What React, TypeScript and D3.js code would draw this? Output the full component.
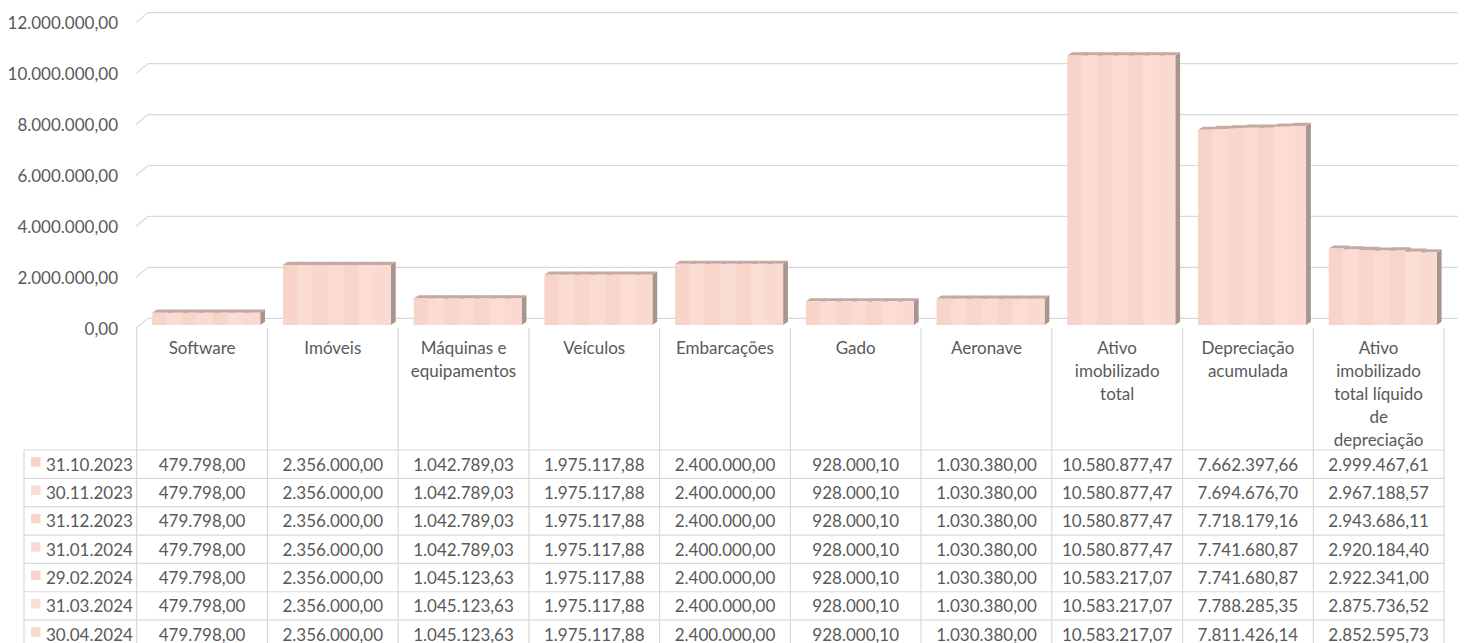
import * as d3 from "d3"

// categories (line breaks as in the data table header)
const categories = [
  "Software",
  "Imóveis",
  "Máquinas e\nequipamentos",
  "Veículos",
  "Embarcações",
  "Gado",
  "Aeronave",
  "Ativo\nimobilizado\ntotal",
  "Depreciação\nacumulada",
  "Ativo\nimobilizado\ntotal líquido\nde\ndepreciação",
]

const dates = ["31.10.2023", "30.11.2023", "31.12.2023", "31.01.2024", "29.02.2024", "31.03.2024", "30.04.2024"]

const s20231031 = [479798.0, 2356000.0, 1042789.03, 1975117.88, 2400000.0, 928000.1, 1030380.0, 10580877.47, 7662397.66, 2999467.61]
const s20231130 = [479798.0, 2356000.0, 1042789.03, 1975117.88, 2400000.0, 928000.1, 1030380.0, 10580877.47, 7694676.7, 2967188.57]
const s20231231 = [479798.0, 2356000.0, 1042789.03, 1975117.88, 2400000.0, 928000.1, 1030380.0, 10580877.47, 7718179.16, 2943686.11]
const s20240131 = [479798.0, 2356000.0, 1042789.03, 1975117.88, 2400000.0, 928000.1, 1030380.0, 10580877.47, 7741680.87, 2920184.4]
const s20240229 = [479798.0, 2356000.0, 1045123.63, 1975117.88, 2400000.0, 928000.1, 1030380.0, 10583217.07, 7741680.87, 2922341.0]
const s20240331 = [479798.0, 2356000.0, 1045123.63, 1975117.88, 2400000.0, 928000.1, 1030380.0, 10583217.07, 7788285.35, 2875736.52]
const s20240430 = [479798.0, 2356000.0, 1045123.63, 1975117.88, 2400000.0, 928000.1, 1030380.0, 10583217.07, 7811426.14, 2852595.73]

const seriesValues = [s20231031, s20231130, s20231231, s20240131, s20240229, s20240331, s20240430]
const seriesColors = ["#F7D3C9", "#FADCD4", "#F8D6CC", "#FADBD3", "#F8D5CB", "#FBDDD5", "#F9D9D0"]

const W = 1464
const H = 643
const FONT = "Lato, 'Open Sans', sans-serif"
const TEXT = "#595959"
const GRID = "#D9D9D9"
const SIDE = "#A8958F"
const TOP = "#C5AAA2"

const locale = d3.formatLocale({ decimal: ",", thousands: ".", grouping: [3], currency: ["", ""] })
const fmt = locale.format(",.2f")

export default function App() {
  // plot geometry
  const tableLeft = 136.7
  const tableRight = 1444
  const legendLeft = 24
  const frontZero = 325
  const backShift = -6.7 // back wall sits a bit higher than the bar fronts
  const depthX = 4.8
  const depthY = -3.2

  const y = d3.scaleLinear().domain([0, 12000000]).range([frontZero, frontZero - 12 * 25.47])
  const xCat = d3.scaleBand<string>().domain(categories).range([tableLeft, tableRight])
  const xSer = d3.scaleBand<string>().domain(dates).range([15.5, 123.5])
  const ticks = y.ticks(6)

  const headerTop = 328
  const rowTop = 450
  const rowH = 28.35
  const rowLines = d3.range(dates.length + 1).map((i) => rowTop + i * rowH)

  return (
    <svg
      width={W}
      height={H}
      style={{ position: "fixed", left: 0, top: 0, background: "#fff" }}
      fontFamily={FONT}
    >
      {/* back wall gridlines with left slant */}
      {ticks.map((t) => {
        const yb = y(t) + backShift
        return (
          <g key={t}>
            <path d={`M136,${yb + 10}L148,${yb}L1458,${yb}`} fill="none" stroke={GRID} strokeWidth={1.2} />
            <text x={118} y={yb + 10} textAnchor="end" dominantBaseline="central" fill={TEXT} fontSize={17}>
              {fmt(t)}
            </text>
          </g>
        )
      })}

      {/* bars, drawn left to right so each front hides the previous side */}
      {categories.map((c, ci) =>
        dates.map((d, si) => {
          const v = seriesValues[si][ci]
          const x0 = (xCat(c) ?? 0) + (xSer(d) ?? 0)
          const x1 = x0 + xSer.bandwidth()
          const yt = y(v)
          const yb = y(0)
          const overlap = si > 0 ? 1.2 : 0
          return (
            <g key={`${ci}-${si}`}>
              <path
                d={`M${x1},${yt}L${x1 + depthX},${yt + depthY}L${x1 + depthX},${yb + depthY}L${x1},${yb}Z`}
                fill={SIDE}
              />
              <path
                d={`M${x0 - overlap},${yt}L${x0 - overlap + depthX},${yt + depthY}L${x1 + depthX},${yt + depthY}L${x1},${yt}Z`}
                fill={TOP}
              />
              <rect x={x0 - overlap} y={yt} width={x1 - x0 + overlap} height={yb - yt} fill={seriesColors[si]} />
            </g>
          )
        })
      )}

      {/* data table: column lines */}
      {categories.map((c) => (
        <line key={c} x1={xCat(c)} x2={xCat(c)} y1={headerTop} y2={H + 10} stroke={GRID} strokeWidth={1.2} />
      ))}
      <line x1={tableRight} x2={tableRight} y1={headerTop} y2={H + 10} stroke={GRID} strokeWidth={1.2} />
      <line x1={legendLeft} x2={legendLeft} y1={rowTop} y2={H + 10} stroke={GRID} strokeWidth={1.2} />
      {rowLines.map((ry) => (
        <line key={ry} x1={legendLeft} x2={tableRight} y1={ry} y2={ry} stroke={GRID} strokeWidth={1.2} />
      ))}

      {/* header labels */}
      {categories.map((c) => (
        <text key={c} x={(xCat(c) ?? 0) + xCat.bandwidth() / 2} textAnchor="middle" fill={TEXT} fontSize={17}>
          {c.split("\n").map((line, li) => (
            <tspan key={li} x={(xCat(c) ?? 0) + xCat.bandwidth() / 2} y={347 + li * 23.2} dominantBaseline="central">
              {line}
            </tspan>
          ))}
        </text>
      ))}

      {/* rows */}
      {dates.map((d, si) => {
        const cy = rowTop + si * rowH + rowH / 2
        return (
          <g key={d}>
            <rect x={31} y={cy - 7} width={9.5} height={9.5} fill={seriesColors[si]} />
            <text x={46} y={cy} dominantBaseline="central" fill={TEXT} fontSize={17}>
              {d}
            </text>
            {categories.map((c, ci) => (
              <text
                key={c}
                x={(xCat(c) ?? 0) + xCat.bandwidth() / 2}
                y={cy}
                textAnchor="middle"
                dominantBaseline="central"
                fill={TEXT}
                fontSize={17}
              >
                {fmt(seriesValues[si][ci])}
              </text>
            ))}
          </g>
        )
      })}
    </svg>
  )
}
